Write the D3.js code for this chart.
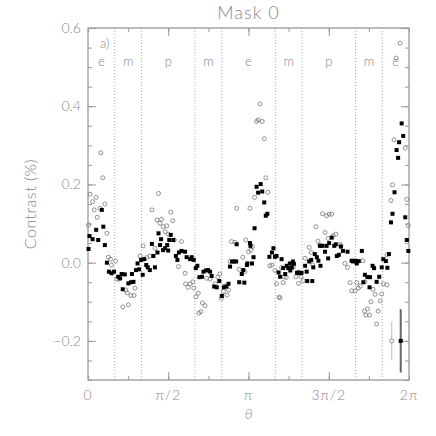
<!DOCTYPE html>
<html>
<head>
<meta charset="utf-8">
<script src="https://cdn.jsdelivr.net/npm/d3@7"></script>
<style>
  body { margin: 0; background: #fff; }
  text { font-family: Lato, "DejaVu Sans", sans-serif; font-weight: 300; fill: #888; }
</style>
</head>
<body>
<div id="chart"></div>
<script>

// filled squares: angle (rad) and contrast (%)
var sqTheta = [0.01,0.03,0.09,0.16,0.20,0.27,0.30,0.33,0.37,0.41,0.46,0.51,0.59,0.63,0.66,0.68,0.72,0.79,0.84,0.89,
  0.86,0.94,0.97,1.00,1.04,1.07,1.10,1.14,1.17,1.21,1.25,1.28,1.31,1.36,1.38,1.41,1.43,1.47,1.51,1.55,
  1.57,1.59,1.62,1.67,1.72,1.75,1.78,1.83,1.90,1.93,2.00,2.03,2.07,2.11,2.14,2.18,2.23,2.26,2.31,2.35,
  2.39,2.42,2.47,2.52,2.57,2.62,2.66,2.71,2.75,2.78,2.82,2.86,2.90,2.91,2.96,3.01,3.04,3.06,3.11,3.12,
  3.17,3.18,3.21,3.24,3.26,3.30,3.33,3.38,3.41,3.45,3.48,3.51,3.55,3.60,3.63,3.66,3.69,3.73,3.76,3.79,
  3.82,3.86,3.89,3.92,3.95,3.96,3.99,4.01,4.03,4.09,4.12,4.15,4.18,4.25,4.28,4.29,4.33,4.37,4.39,4.41,
  4.44,4.48,4.51,4.54,4.55,4.59,4.64,4.67,4.70,4.72,4.77,4.82,4.85,4.87,4.91,4.95,4.99,5.08,5.16,5.19,
  5.23,5.26,5.30,5.36,5.39,5.42,5.47,5.51,5.52,5.57,5.60,5.65,5.70,5.75,5.78,5.83,5.86,5.89,5.93,5.96,
  6.00,6.04,6.07,6.09,6.14,6.17,6.21,6.24,6.27];
var sqValue = [0.035,0.068,0.060,0.084,0.058,0.135,0.092,0.045,0.000,-0.023,-0.027,-0.023,-0.036,-0.040,-0.029,-0.068,-0.030,-0.053,-0.050,-0.049,
  -0.029,-0.019,-0.002,-0.017,0.007,-0.031,0.009,-0.006,-0.012,-0.019,0.048,0.017,-0.012,0.026,0.075,0.045,0.060,0.032,0.037,0.045,
  0.031,0.058,0.071,0.058,0.017,0.007,0.026,0.030,0.028,0.014,0.009,0.014,0.007,-0.014,-0.008,-0.037,-0.036,-0.023,-0.020,-0.019,
  -0.023,-0.034,-0.061,-0.063,-0.047,-0.085,-0.063,-0.061,-0.054,-0.010,0.003,0.003,0.003,0.047,-0.050,-0.029,-0.019,-0.051,-0.006,-0.002,
  0.050,0.043,-0.002,0.014,0.088,0.194,0.179,0.201,0.182,0.154,0.120,0.125,0.015,0.026,0.037,0.015,0.017,-0.025,-0.036,0.009,
  -0.014,-0.029,-0.008,-0.014,-0.002,-0.020,-0.012,0.003,-0.003,-0.026,-0.025,-0.027,-0.026,-0.008,-0.023,-0.047,0.003,0.007,-0.047,-0.012,
  0.022,0.014,0.005,0.043,-0.008,0.043,0.028,0.043,0.011,0.050,0.064,0.043,0.047,0.017,0.020,0.041,0.030,0.028,0.005,0.003,
  0.005,-0.002,0.004,0.030,-0.050,-0.031,-0.037,-0.063,-0.037,-0.008,-0.014,-0.049,-0.036,-0.012,0.009,0.004,-0.013,0.022,0.103,0.125,
  0.180,0.288,0.268,0.308,0.356,0.324,0.116,0.058,0.030];

// open circles: angle (rad) and contrast (%)
var ciTheta = [0.01,0.04,0.09,0.12,0.16,0.18,0.23,0.25,0.29,0.33,0.37,0.40,0.44,0.46,0.54,0.56,0.61,0.68,0.74,0.77,
  0.79,0.84,0.90,0.92,1.02,1.08,1.15,1.21,1.25,1.31,1.35,1.38,1.41,1.44,1.47,1.51,1.54,1.57,1.62,1.66,
  1.69,1.77,1.83,1.90,1.91,1.96,2.00,2.05,2.07,2.11,2.16,2.17,2.21,2.24,2.29,2.32,2.39,2.49,2.54,2.58,
  2.61,2.65,2.67,2.72,2.75,2.78,2.81,2.88,2.91,2.96,3.03,3.07,3.09,3.14,3.17,3.19,3.22,3.26,3.30,3.33,
  3.37,3.41,3.45,3.48,3.52,3.56,3.60,3.66,3.69,3.74,3.76,3.79,3.82,3.84,3.88,3.95,4.02,4.07,4.12,4.17,
  4.21,4.25,4.33,4.37,4.40,4.46,4.50,4.54,4.59,4.64,4.67,4.70,4.72,4.77,4.80,4.85,4.93,4.95,5.03,5.08,
  5.13,5.16,5.23,5.26,5.29,5.33,5.38,5.41,5.42,5.44,5.47,5.51,5.54,5.58,5.62,5.65,5.68,5.72,5.75,5.78,
  5.85,5.85,5.93,5.96,5.99,6.03,6.11,6.21,6.24,6.27];
var ciValue = [0.096,0.175,0.156,0.135,0.167,0.116,0.139,0.281,0.217,0.150,0.075,0.014,0.009,-0.006,0.004,-0.042,-0.042,-0.113,-0.070,-0.077,
  -0.108,-0.084,-0.084,-0.065,0.017,0.043,0.013,0.017,0.135,0.037,0.109,0.177,0.101,0.111,0.092,0.079,0.094,0.073,0.129,0.107,
  0.058,-0.010,0.054,-0.027,-0.054,-0.063,-0.054,-0.049,-0.065,-0.087,-0.078,-0.129,-0.125,-0.103,-0.110,-0.040,-0.042,-0.054,-0.037,-0.029,
  -0.091,-0.074,-0.060,-0.083,-0.070,0.003,0.054,0.052,0.139,-0.017,0.014,-0.023,0.058,0.028,0.139,0.032,0.041,0.167,0.361,0.365,
  0.406,0.361,0.317,0.217,0.180,-0.008,-0.006,-0.020,-0.054,-0.088,-0.090,-0.012,-0.051,-0.036,-0.038,-0.014,-0.012,-0.036,-0.053,-0.036,
  -0.046,0.011,0.039,0.026,-0.006,0.092,0.055,0.045,0.125,0.077,0.120,0.062,0.124,0.124,0.069,0.073,0.047,0.043,-0.002,-0.012,
  -0.051,-0.072,-0.072,-0.051,-0.065,-0.060,0.005,-0.124,-0.049,-0.134,-0.118,-0.134,-0.100,-0.068,-0.081,-0.157,-0.124,-0.098,-0.080,-0.054,
  -0.057,0.020,0.159,0.199,0.314,0.523,0.561,0.293,0.162,0.095];

// sample error bars (circle, square)
var errTheta = [5.945, 6.121];
var errValue = [-0.2, -0.2];
var errSize = [0.05, 0.081];

// region boundaries and labels
var dividers = [1, 2, 4, 5, 7, 8, 10, 11].map(function(k) { return k * Math.PI / 6; });
var regionLabels = ["e", "m", "p", "m", "e", "m", "p", "m", "e"];
var regionCenters = [1/12, 1/4, 1/2, 3/4, 1, 5/4, 3/2, 7/4, 23/12].map(function(k) { return k * Math.PI; });

var xTickValues = [0, 0.5, 1, 1.5, 2].map(function(k) { return k * Math.PI; });
var xTickLabels = ["0", "π/2", "π", "3π/2", "2π"];
var yTickValues = [-0.2, 0.0, 0.2, 0.4, 0.6];

var margin = {top: 28, right: 27, bottom: 56, left: 88},
    width = 436 - margin.left - margin.right,
    height = 436 - margin.top - margin.bottom;

var svgRoot = d3.select("#chart").append("svg")
    .attr("width", 436)
    .attr("height", 436);

var svg = svgRoot.append("g")
    .attr("transform", "translate(" + margin.left + "," + margin.top + ")");

var x = d3.scaleLinear().domain([0, 2 * Math.PI]).range([0, width]);
var y = d3.scaleLinear().domain([-0.3, 0.6]).range([height, 0]);

var axisColor = "#999";

// dotted region lines
svg.selectAll(".divider")
    .data(dividers)
    .enter()
    .append("line")
    .attr("class", "divider")
    .attr("x1", function(d) { return x(d); })
    .attr("x2", function(d) { return x(d); })
    .attr("y1", 0)
    .attr("y2", height)
    .style("stroke", "#aaa")
    .style("stroke-width", 1)
    .style("stroke-dasharray", "1,2");

// ticks, pointing inward on all four sides
var xMinor = d3.range(0, 9).map(function(k) { return k * Math.PI / 4; });
var yMinor = d3.range(-6, 13).map(function(k) { return k * 0.05; });

var xAxisB = d3.axisBottom(x).tickValues(xMinor).tickSize(-4).tickFormat("");
var xAxisT = d3.axisTop(x).tickValues(xMinor).tickSize(-4).tickFormat("");
var yAxisL = d3.axisLeft(y).tickValues(yMinor).tickSize(-4).tickFormat("");
var yAxisR = d3.axisRight(y).tickValues(yMinor).tickSize(-4).tickFormat("");

svg.append("g").attr("transform", "translate(0," + height + ")").call(xAxisB);
svg.append("g").call(xAxisT);
svg.append("g").call(yAxisL);
svg.append("g").attr("transform", "translate(" + width + ",0)").call(yAxisR);

svg.append("g").attr("transform", "translate(0," + height + ")")
    .call(d3.axisBottom(x).tickValues(xTickValues.slice(1, 4)).tickSize(-8).tickFormat(""));
svg.append("g")
    .call(d3.axisTop(x).tickValues(xTickValues.slice(1, 4)).tickSize(-8).tickFormat(""));
svg.append("g")
    .call(d3.axisLeft(y).tickValues(yTickValues).tickSize(-8).tickFormat(""));
svg.append("g").attr("transform", "translate(" + width + ",0)")
    .call(d3.axisRight(y).tickValues(yTickValues).tickSize(-8).tickFormat(""));

svg.selectAll(".domain").remove();
svg.selectAll(".tick line").style("stroke", axisColor).style("stroke-width", 1);

svg.append("rect")
    .attr("width", width)
    .attr("height", height)
    .style("fill", "none")
    .style("stroke", axisColor)
    .style("stroke-width", 1.3);

// tick labels
svg.selectAll(".xlab")
    .data(xTickValues)
    .enter()
    .append("text")
    .attr("class", "xlab")
    .attr("x", function(d) { return x(d); })
    .attr("y", height + 20)
    .attr("text-anchor", "middle")
    .style("font-size", "14px")
    .style("letter-spacing", "1px")
    .text(function(d, i) { return xTickLabels[i]; });

svg.selectAll(".ylab")
    .data(yTickValues)
    .enter()
    .append("text")
    .attr("class", "ylab")
    .attr("x", -7)
    .attr("y", function(d) { return y(d) + 5; })
    .attr("text-anchor", "end")
    .style("font-size", "14px")
    .text(function(d) { return d3.format(".1f")(d).replace("-", "−"); });

// axis titles
svgRoot.append("text")
    .attr("x", margin.left + width / 2)
    .attr("y", margin.top + height + 39)
    .attr("text-anchor", "middle")
    .style("font-size", "14px")
    .style("font-style", "italic")
    .text("θ");

svgRoot.append("text")
    .attr("transform", "translate(36," + (margin.top + height / 2) + ") rotate(-90)")
    .attr("text-anchor", "middle")
    .style("font-size", "16px")
    .style("letter-spacing", "0.5px")
    .text("Contrast (%)");

svgRoot.append("text")
    .attr("x", margin.left + width / 2)
    .attr("y", 19)
    .attr("text-anchor", "middle")
    .style("font-size", "18px")
    .style("letter-spacing", "1px")
    .text("Mask 0");

svg.append("text")
    .attr("x", 12)
    .attr("y", 20)
    .style("font-size", "13px")
    .text("a)");

svg.selectAll(".region")
    .data(regionCenters)
    .enter()
    .append("text")
    .attr("class", "region")
    .attr("x", function(d) { return x(d); })
    .attr("y", 38)
    .attr("text-anchor", "middle")
    .style("font-size", "13px")
    .text(function(d, i) { return regionLabels[i]; });

// data
svg.selectAll(".ci")
    .data(ciTheta)
    .enter()
    .append("circle")
    .attr("class", "ci")
    .attr("cx", function(d) { return x(d); })
    .attr("cy", function(d, i) { return y(ciValue[i]); })
    .attr("r", 2)
    .style("fill", "none")
    .style("stroke", "#777")
    .style("stroke-width", 0.8);

svg.selectAll(".sq")
    .data(sqTheta)
    .enter()
    .append("rect")
    .attr("class", "sq")
    .attr("x", function(d) { return x(d) - 2; })
    .attr("y", function(d, i) { return y(sqValue[i]) - 2; })
    .attr("width", 4)
    .attr("height", 4)
    .style("fill", "#000");

// error bars
svg.selectAll(".err")
    .data(errTheta)
    .enter()
    .append("line")
    .attr("class", "err")
    .attr("x1", function(d) { return x(d); })
    .attr("x2", function(d) { return x(d); })
    .attr("y1", function(d, i) { return y(errValue[i] - errSize[i]); })
    .attr("y2", function(d, i) { return y(errValue[i] + errSize[i]); })
    .style("stroke", function(d, i) { return i === 0 ? "#bbb" : "#666"; })
    .style("stroke-width", function(d, i) { return i === 0 ? 1 : 2; });

svg.append("circle")
    .attr("cx", x(errTheta[0]))
    .attr("cy", y(errValue[0]))
    .attr("r", 2)
    .style("fill", "#fff")
    .style("stroke", "#777")
    .style("stroke-width", 0.8);

svg.append("rect")
    .attr("x", x(errTheta[1]) - 2)
    .attr("y", y(errValue[1]) - 2)
    .attr("width", 4)
    .attr("height", 4)
    .style("fill", "#000");

</script>
</body>
</html>
